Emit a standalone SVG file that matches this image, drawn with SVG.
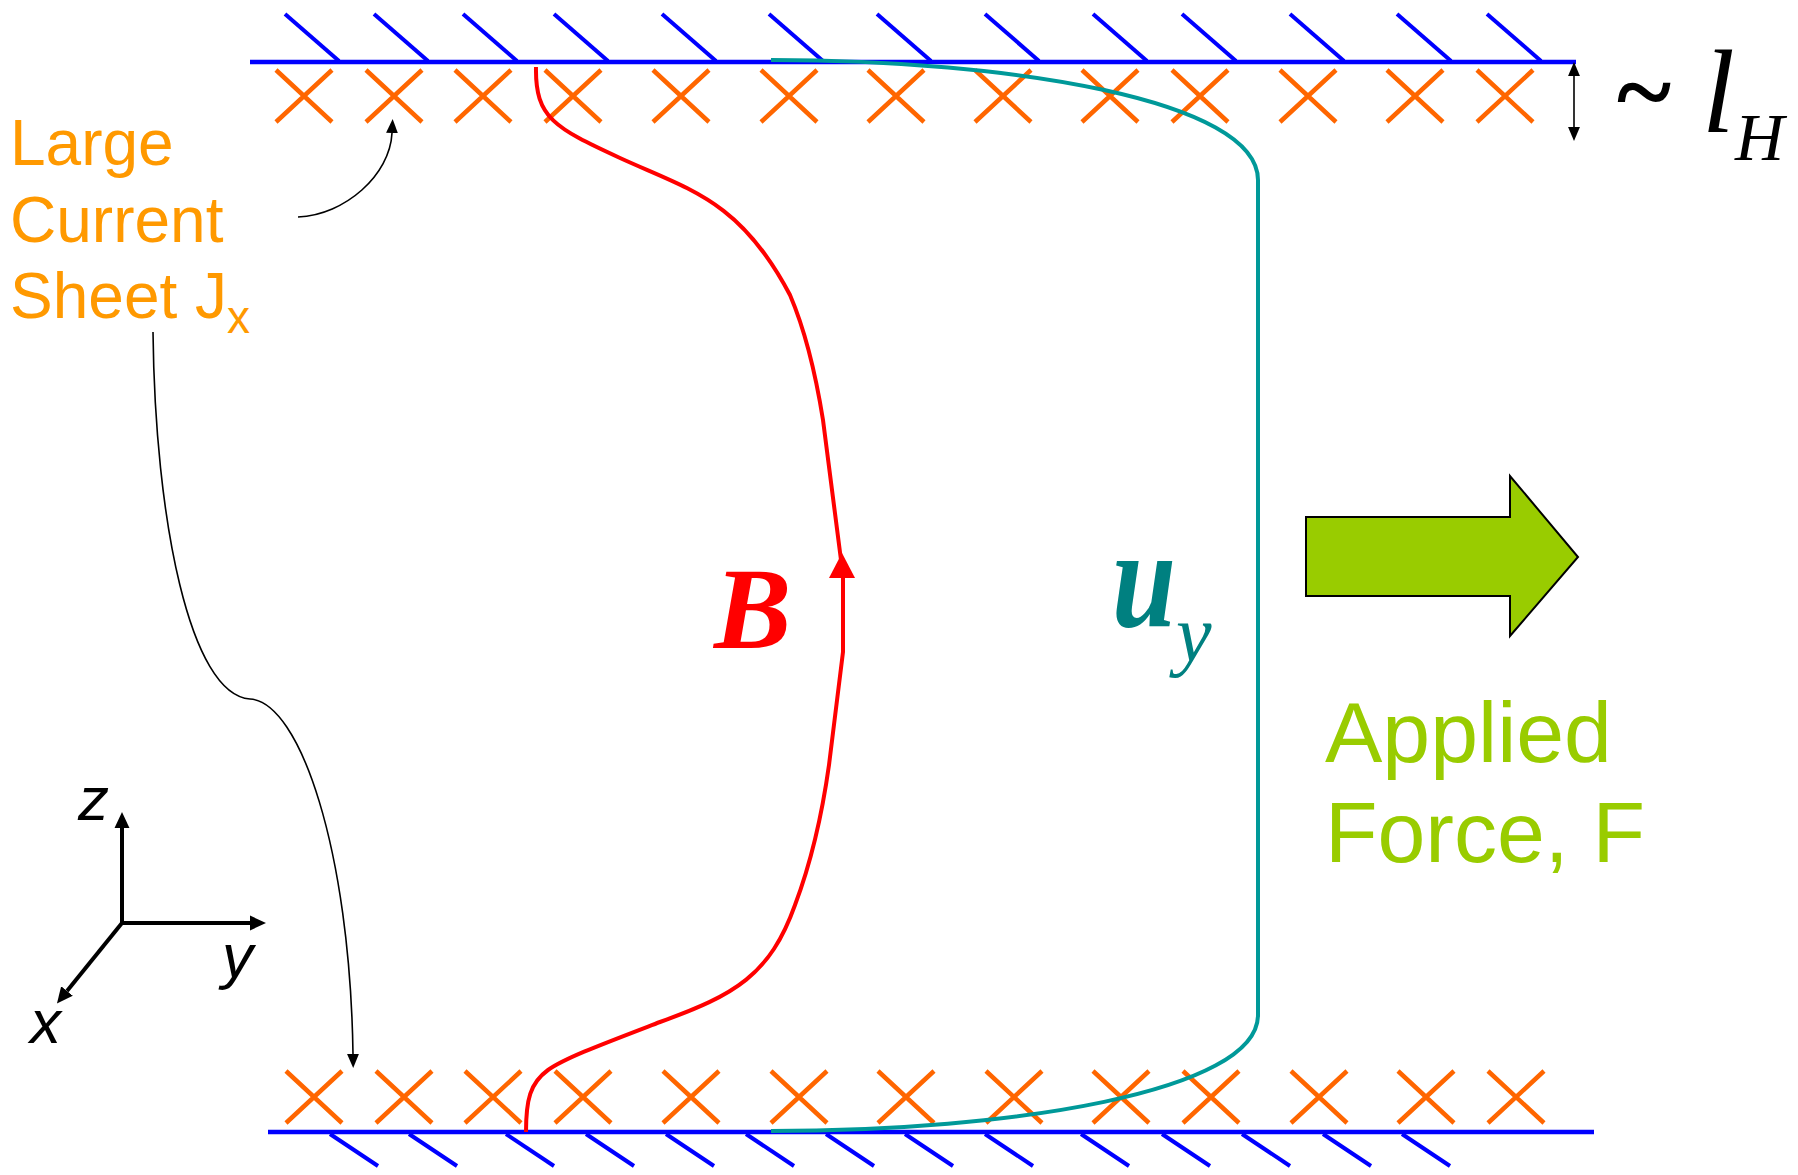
<svg xmlns="http://www.w3.org/2000/svg" xmlns:xlink="http://www.w3.org/1999/xlink" width="1798" height="1175" viewBox="0 0 1798 1175">
<style>
.wall{stroke:#0000FF;stroke-width:4.5;fill:none}
.hatch{stroke:#0000FF;stroke-width:4;fill:none}
.cross{stroke:#FF6600;stroke-width:4.5;fill:none}
.red{stroke:#FF0000;stroke-width:4;fill:none}
.teal{stroke:#009999;stroke-width:4;fill:none}
.thin{stroke:#000;stroke-width:1.6;fill:none}
.axis{stroke:#000;stroke-width:4;fill:none}
.orange{font-family:"Liberation Sans",Arial,sans-serif;font-size:64px;fill:#FF9900}
.green{font-family:"Liberation Sans",Arial,sans-serif;font-size:86px;fill:#99CC00}
.ax{font-family:"Liberation Sans",Arial,sans-serif;font-size:62px;font-style:italic;fill:#000}
.serif{font-family:"Liberation Serif","Times New Roman",serif}
</style>
<defs>
<path id="cx" d="M-28,-26 L28,26 M-28,26 L28,-26"/>
<marker id="ah" markerUnits="userSpaceOnUse" markerWidth="16" markerHeight="16" viewBox="0 0 15 14" refX="0" refY="7" orient="auto-start-reverse"><path d="M0,0 L15,7 L0,14 z" fill="#000"/></marker>
<marker id="ahs" markerUnits="userSpaceOnUse" markerWidth="14" markerHeight="12" viewBox="0 0 13 11" refX="0" refY="5.5" orient="auto-start-reverse"><path d="M0,0 L13,5.5 L0,11 z" fill="#000"/></marker>
</defs>

<g id="top-wall">
<line class="wall" x1="250" y1="62" x2="1576" y2="62"/>
<g class="hatch">
<line x1="285" y1="14" x2="339" y2="61"/>
<line x1="374" y1="14" x2="428" y2="61"/>
<line x1="463" y1="14" x2="517" y2="61"/>
<line x1="554" y1="14" x2="608" y2="61"/>
<line x1="662" y1="14" x2="716" y2="61"/>
<line x1="769" y1="14" x2="823" y2="61"/>
<line x1="877" y1="14" x2="931" y2="61"/>
<line x1="985" y1="14" x2="1039" y2="61"/>
<line x1="1093" y1="14" x2="1147" y2="61"/>
<line x1="1182" y1="14" x2="1236" y2="61"/>
<line x1="1290" y1="14" x2="1344" y2="61"/>
<line x1="1397" y1="14" x2="1451" y2="61"/>
<line x1="1487" y1="14" x2="1541" y2="61"/>
</g>
</g>

<g id="top-currents" class="cross">
<use xlink:href="#cx" x="304" y="96"/>
<use xlink:href="#cx" x="394" y="96"/>
<use xlink:href="#cx" x="483" y="96"/>
<use xlink:href="#cx" x="573" y="96"/>
<use xlink:href="#cx" x="681" y="96"/>
<use xlink:href="#cx" x="789" y="96"/>
<use xlink:href="#cx" x="896" y="96"/>
<use xlink:href="#cx" x="1003" y="96"/>
<use xlink:href="#cx" x="1110" y="96"/>
<use xlink:href="#cx" x="1200" y="96"/>
<use xlink:href="#cx" x="1308" y="96"/>
<use xlink:href="#cx" x="1415" y="96"/>
<use xlink:href="#cx" x="1505" y="96"/>
</g>

<g id="bottom-wall">
<line class="wall" x1="268" y1="1132" x2="1594" y2="1132"/>
<g class="hatch">
<line x1="330" y1="1134" x2="378" y2="1166"/>
<line x1="409" y1="1134" x2="457" y2="1166"/>
<line x1="506" y1="1134" x2="554" y2="1166"/>
<line x1="586" y1="1134" x2="634" y2="1166"/>
<line x1="666" y1="1134" x2="714" y2="1166"/>
<line x1="746" y1="1134" x2="794" y2="1166"/>
<line x1="826" y1="1134" x2="874" y2="1166"/>
<line x1="905" y1="1134" x2="953" y2="1166"/>
<line x1="985" y1="1134" x2="1033" y2="1166"/>
<line x1="1081" y1="1134" x2="1129" y2="1166"/>
<line x1="1162" y1="1134" x2="1210" y2="1166"/>
<line x1="1242" y1="1134" x2="1290" y2="1166"/>
<line x1="1323" y1="1134" x2="1371" y2="1166"/>
<line x1="1402" y1="1134" x2="1450" y2="1166"/>
</g>
</g>

<g id="bottom-currents" class="cross">
<use xlink:href="#cx" x="314" y="1097"/>
<use xlink:href="#cx" x="404" y="1097"/>
<use xlink:href="#cx" x="493" y="1097"/>
<use xlink:href="#cx" x="583" y="1097"/>
<use xlink:href="#cx" x="691" y="1097"/>
<use xlink:href="#cx" x="799" y="1097"/>
<use xlink:href="#cx" x="906" y="1097"/>
<use xlink:href="#cx" x="1014" y="1097"/>
<use xlink:href="#cx" x="1121" y="1097"/>
<use xlink:href="#cx" x="1211" y="1097"/>
<use xlink:href="#cx" x="1319" y="1097"/>
<use xlink:href="#cx" x="1426" y="1097"/>
<use xlink:href="#cx" x="1516" y="1097"/>
</g>

<g id="field-line-B">
<path class="red" d="M536,67 C535,118 555,128 620,158 C690,190 740,200 790,295 C805,330 815,370 823,420 L841,560"/>
<polygon points="842,553 829,578 855,578" fill="#FF0000"/>
<path class="red" d="M843,576 L843,652 L829,765 C822,815 812,860 795,905 C770,975 735,995 660,1022 C600,1045 565,1058 548,1070 C530,1083 526,1100 526,1132"/>
<text class="serif" x="714" y="648" font-size="116" font-weight="bold" font-style="italic" fill="#FF0000">B</text>
</g>

<g id="velocity-uy">
<path class="teal" d="M771,60 C1010,60 1258,100 1258,180 L1258,1015 C1258,1092 1010,1131 771,1131"/>
<text class="serif" x="1112" y="626" font-size="142" font-weight="bold" font-style="italic" fill="#008080" textLength="64" lengthAdjust="spacingAndGlyphs">u</text>
<text class="serif" x="1176" y="661" font-size="80" font-style="italic" fill="#008080">y</text>
</g>

<g id="force-arrow">
<polygon points="1306,517 1510,517 1510,476 1578,557 1510,636 1510,596 1306,596" fill="#99CC00" stroke="#000" stroke-width="2"/>
<text class="green" x="1325" y="762">Applied</text>
<text class="green" x="1325" y="862">Force, F</text>
</g>

<g id="current-label">
<text class="orange" x="10" y="165">Large</text>
<text class="orange" x="10" y="242">Current</text>
<text class="orange" x="10" y="318">Sheet J<tspan font-size="46" dy="15">x</tspan></text>
</g>

<g id="thickness-label">
<text class="serif" x="1617" y="126" font-size="104" font-weight="bold" fill="#000">~</text>
<text class="serif" x="1702" y="132" font-size="118" font-style="italic" fill="#000">l</text>
<text class="serif" x="1735" y="160" font-size="68" font-style="italic" fill="#000">H</text>
</g>

<g id="axes">
<path class="axis" d="M122,923 L122,828" marker-end="url(#ah)"/>
<path class="axis" d="M122,923 L250,923" marker-end="url(#ah)"/>
<path class="axis" d="M122,923 L67,991" marker-end="url(#ah)"/>
<text class="ax" x="78" y="820">z</text>
<text class="ax" x="222" y="977">y</text>
<text class="ax" x="30" y="1043">x</text>
</g>

<g id="connectors">
<path class="thin" d="M298,217 C345,215 390,175 392,133" marker-end="url(#ahs)"/>
<path class="thin" d="M153,332 C155,520 190,695 250,699 C300,702 350,850 353,1054" marker-end="url(#ahs)"/>
<path class="thin" d="M1574,76 L1574,127" marker-start="url(#ahs)" marker-end="url(#ahs)"/>
</g>
</svg>
